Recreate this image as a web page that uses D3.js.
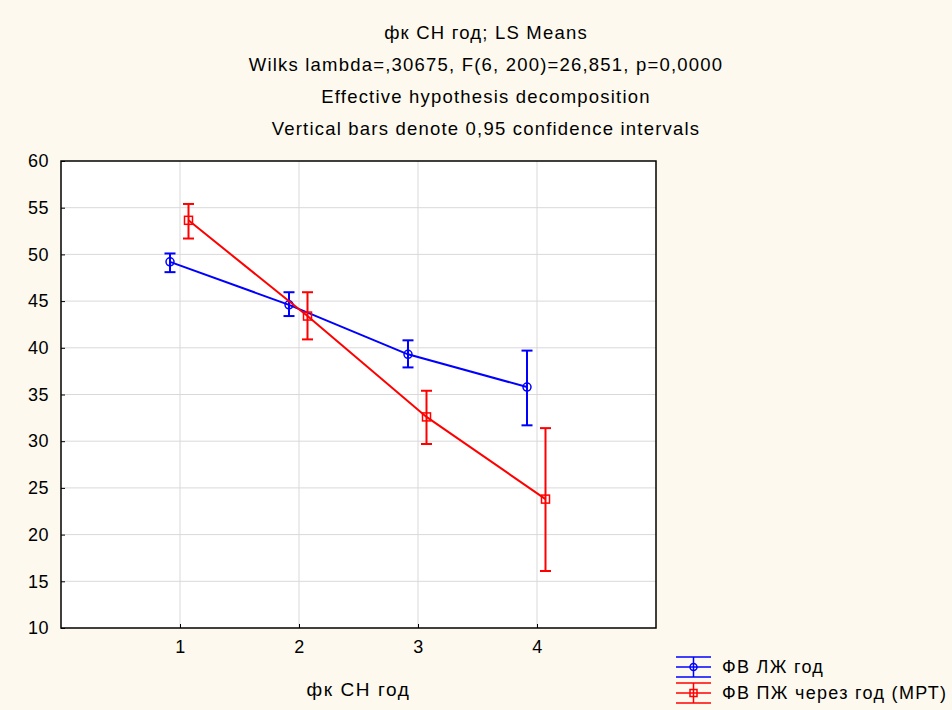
<!DOCTYPE html>
<html>
<head>
<meta charset="utf-8">
<script src="https://cdn.jsdelivr.net/npm/d3@7"></script>
<style>
  body { margin: 0; background: #fdf9ee; }
  text { font-family: Arial, "Liberation Sans", sans-serif; fill: #000; }
</style>
</head>
<body>
<script>
// categories on the x axis (фк СН год)
let categories = [1, 2, 3, 4];
let yTicks = [10, 15, 20, 25, 30, 35, 40, 45, 50, 55, 60];

// ФВ ЛЖ год
let lvMean = [49.2, 44.6, 39.3, 35.8];
let lvLow = [48.1, 43.4, 37.9, 31.7];
let lvHigh = [50.1, 45.95, 40.8, 39.7];

// ФВ ПЖ через год (МРТ)
let rvMean = [53.65, 43.4, 32.6, 23.8];
let rvLow = [51.7, 40.9, 29.7, 16.1];
let rvHigh = [55.4, 45.95, 35.4, 31.4];

let titles = [
    'фк СН год; LS Means',
    'Wilks lambda=,30675, F(6, 200)=26,851, p=0,0000',
    'Effective hypothesis decomposition',
    'Vertical bars denote 0,95 confidence intervals'
];

let width = 952;
let height = 710;
let margin = {left: 61, right: 296, top: 161, bottom: 82};

let svg = d3.select('body').append('svg')
    .attr('width', width)
    .attr('height', height);

svg.append('rect')
    .attr('width', width)
    .attr('height', height)
    .attr('fill', '#fdf9ee');

let x = d3.scaleLinear()
    .domain([0, 5])
    .range([margin.left, width - margin.right]);
let y = d3.scaleLinear()
    .domain([10, 60])
    .range([height - margin.bottom, margin.top]);

// plot background
svg.append('rect')
    .attr('x', x(0))
    .attr('y', y(60))
    .attr('width', x(5) - x(0))
    .attr('height', y(10) - y(60))
    .attr('fill', '#fff');

// grid
svg.selectAll('.hgrid')
    .data(yTicks.slice(1, -1))
    .join('line')
    .attr('class', 'hgrid')
    .attr('x1', x(0)).attr('x2', x(5))
    .attr('y1', d => y(d)).attr('y2', d => y(d))
    .attr('stroke', '#d9d9d9')
    .attr('stroke-width', 1);

svg.selectAll('.vgrid')
    .data(categories)
    .join('line')
    .attr('class', 'vgrid')
    .attr('x1', d => x(d)).attr('x2', d => x(d))
    .attr('y1', y(10)).attr('y2', y(60))
    .attr('stroke', '#d9d9d9')
    .attr('stroke-width', 1);

// axes
let yAxis = svg.append('g')
    .attr('transform', `translate(${x(0)},0)`)
    .call(d3.axisLeft(y).tickValues(yTicks).tickSize(-4).tickPadding(12));
let xAxis = svg.append('g')
    .attr('transform', `translate(0,${y(10)})`)
    .call(d3.axisBottom(x).tickValues(categories).tickFormat(d3.format('d')).tickSize(-4).tickPadding(12));

[yAxis, xAxis].forEach(g => {
    g.attr('font-size', 18).attr('font-family', 'Arial, "Liberation Sans", sans-serif');
    g.select('.domain').remove();
    g.selectAll('.tick line').attr('stroke', '#000');
    g.selectAll('text').attr('letter-spacing', 0.5);
});

// frame
svg.append('rect')
    .attr('x', x(0))
    .attr('y', y(60))
    .attr('width', x(5) - x(0))
    .attr('height', y(10) - y(60))
    .attr('fill', 'none')
    .attr('stroke', '#000')
    .attr('stroke-width', 1.5);

// titles
svg.selectAll('.title')
    .data(titles)
    .join('text')
    .attr('class', 'title')
    .attr('x', 486)
    .attr('y', (d, i) => 39 + i * 32)
    .attr('text-anchor', 'middle')
    .attr('font-size', 18.5)
    .attr('letter-spacing', 1.2)
    .text(d => d);

svg.append('text')
    .attr('x', (x(0) + x(5)) / 2)
    .attr('y', 696)
    .attr('text-anchor', 'middle')
    .attr('font-size', 19)
    .attr('letter-spacing', 1.6)
    .text('фк СН год');

let series = [
    {name: 'ФВ ЛЖ год', mean: lvMean, low: lvLow, high: lvHigh, color: '#0000ff', shift: -10, marker: 'circle'},
    {name: 'ФВ ПЖ через год (МРТ)', mean: rvMean, low: rvLow, high: rvHigh, color: '#ff0000', shift: 8.5, marker: 'square'}
];

let line = d3.line()
    .x(d => d.x)
    .y(d => d.y);

series.forEach(s => {
    let pts = categories.map((c, i) => ({
        x: x(c) + s.shift,
        y: y(s.mean[i]),
        lo: y(s.low[i]),
        hi: y(s.high[i])
    }));
    let g = svg.append('g');
    g.append('path')
        .datum(pts)
        .attr('d', line)
        .attr('fill', 'none')
        .attr('stroke', s.color)
        .attr('stroke-width', 2);
    let bars = g.selectAll('.bar')
        .data(pts)
        .join('g');
    bars.append('line')
        .attr('x1', d => d.x).attr('x2', d => d.x)
        .attr('y1', d => d.lo).attr('y2', d => d.hi)
        .attr('stroke', s.color).attr('stroke-width', 2);
    bars.append('line')
        .attr('x1', d => d.x - 5.5).attr('x2', d => d.x + 5.5)
        .attr('y1', d => d.lo).attr('y2', d => d.lo)
        .attr('stroke', s.color).attr('stroke-width', 2);
    bars.append('line')
        .attr('x1', d => d.x - 5.5).attr('x2', d => d.x + 5.5)
        .attr('y1', d => d.hi).attr('y2', d => d.hi)
        .attr('stroke', s.color).attr('stroke-width', 2);
    if (s.marker === 'circle') {
        bars.append('circle')
            .attr('cx', d => d.x).attr('cy', d => d.y)
            .attr('r', 4)
            .attr('fill', 'none')
            .attr('stroke', s.color).attr('stroke-width', 1.5);
    } else {
        bars.append('rect')
            .attr('x', d => d.x - 4).attr('y', d => d.y - 4)
            .attr('width', 8).attr('height', 8)
            .attr('fill', 'none')
            .attr('stroke', s.color).attr('stroke-width', 1.5);
    }
});

// legend
let legend = svg.selectAll('.legend')
    .data(series)
    .join('g')
    .attr('class', 'legend')
    .attr('transform', (d, i) => `translate(676,${667 + i * 26})`);
legend.each(function(s) {
    let g = d3.select(this);
    [-10, 0, 10].forEach(dy => {
        g.append('line')
            .attr('x1', 0).attr('x2', 35)
            .attr('y1', dy).attr('y2', dy)
            .attr('stroke', s.color).attr('stroke-width', 1.5);
    });
    g.append('line')
        .attr('x1', 17.5).attr('x2', 17.5)
        .attr('y1', -10).attr('y2', 10)
        .attr('stroke', s.color).attr('stroke-width', 1.5);
    if (s.marker === 'circle') {
        g.append('circle').attr('cx', 17.5).attr('cy', 0).attr('r', 3.5)
            .attr('fill', 'none').attr('stroke', s.color).attr('stroke-width', 1.5);
    } else {
        g.append('rect').attr('x', 14).attr('y', -3.5).attr('width', 7).attr('height', 7)
            .attr('fill', 'none').attr('stroke', s.color).attr('stroke-width', 1.5);
    }
    g.append('text')
        .attr('x', 46)
        .attr('y', 6)
        .attr('font-size', 18)
        .attr('letter-spacing', 1.3)
        .text(s.name);
});
</script>
</body>
</html>
